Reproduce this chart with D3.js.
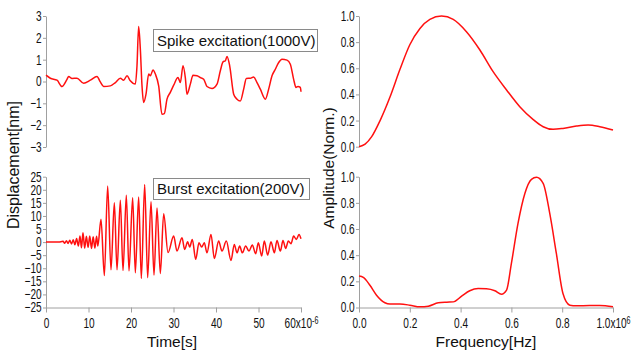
<!DOCTYPE html>
<html>
<head>
<meta charset="utf-8">
<script src="https://cdn.jsdelivr.net/npm/d3@7"></script>
<style>
body { margin: 0; background: #ffffff; }
.axis path, .axis line { stroke: #a0a0a0; stroke-width: 1; }
.axis text { font-family: "Liberation Sans", Arial, sans-serif; font-size: 14px; fill: #111111; }
.label { font-family: "Liberation Sans", Arial, sans-serif; fill: #111111; }
</style>
</head>
<body>
<div id="chart"></div>
<script>
// ---- data ----
// spike excitation, time in microseconds, displacement in nm
var spike_time = [0, 1.02, 2.59, 3.76, 4.94, 5.33, 6.12, 7.29, 8.86, 10.43, 12.0, 12.78, 13.57, 15.14, 16.31,
	17.49, 18.27, 19.06, 19.84, 21.02, 21.41, 21.8, 22.2, 22.59, 22.98, 23.53, 24.16, 24.55, 25.18, 25.73,
	26.51, 27.29, 27.84, 28.47, 29.25, 30.04, 31.06, 31.61, 32.24, 32.78, 33.18, 33.96, 34.59, 35.53, 36.31,
	37.1, 37.88, 39.06, 40.24, 41.02, 41.65, 42.2, 42.59, 43.22, 44.16, 44.94, 45.73, 46.51, 47.14, 48.08,
	48.86, 49.65, 50.43, 51.61, 52.39, 53.18, 53.96, 54.75, 55.53, 56.71, 57.49, 58.27, 58.82, 59.29, 59.84, 60.0];
var spike_disp = [0.29, 0.15, 0.06, -0.23, 0.1, 0.23, 0.14, 0.15, -0.08, 0.06, 0.23, -0.02, -0.23, -0.2, -0.05,
	0.15, 0.06, 0.26, 0.03, -0.12, 0.72, 2.52, 1.48, -0.2, -0.96, -0.58, 0.34, 0.26, 0.53, 0.34,
	-0.2, -1.5, -1.47, -0.81, -0.5, -0.17, 0.18, -0.05, 0.72, 0.18, -0.58, -0.12, 0.29, 0.26, 0.18,
	0.1, -0.23, -0.32, -0.12, 0.49, 0.9, 0.95, 1.15, 0.72, -0.58, -0.81, -0.89, -0.35, 0.14, 0.15,
	0.21, -0.05, -0.35, -0.81, -0.35, 0.26, 0.56, 0.87, 1.02, 0.98, 0.79, 0.1, -0.27, -0.23, -0.27, -0.47];

// burst excitation, mostly peaks and troughs of the oscillation
var burst_time = [0, 3.0, 4.0, 4.4, 4.8, 5.2, 5.6, 6.0, 6.4, 6.8, 7.2, 7.6, 8.0, 8.35, 8.7, 9.1, 9.5, 9.9,
	10.3, 10.7, 11.1, 11.5, 11.9, 12.2, 12.94, 13.73, 14.51, 15.29, 16.08, 16.71, 17.49, 18.12, 18.9,
	19.53, 20.39, 21.02, 21.8, 22.43, 23.22, 23.92, 24.71, 25.41, 26.12, 26.9, 27.69, 28.71, 30.04,
	30.82, 32.0, 32.63, 33.33, 33.8, 34.43, 35.22, 36.0, 36.63, 37.25, 37.88, 38.82, 39.61, 40.63,
	41.41, 42.43, 43.53, 44.31, 44.94, 45.57, 46.2, 46.98, 47.76, 48.55, 49.33, 49.96, 50.75, 51.37,
	52.16, 52.94, 53.73, 54.35, 55.14, 55.76, 56.39, 57.02, 57.65, 58.27, 58.9, 59.53, 60.0];
var burst_disp = [0, 0, 0.3, -0.4, 0.5, -0.5, 0.7, -0.7, 0.9, -1.0, 1.4, -1.5, 2.3, -2.2, 3.6, -2.3, 2.2, -2.0,
	2.3, -2.4, 2.0, -2.3, 2.2, -1.5, 8.7, -12.8, 21.4, -10.6, 15.0, -10.6, 16.0, -10.9, 17.9,
	-11.0, 17.0, -11.7, 17.2, -13.9, 22.0, -13.6, 15.4, -12.6, 13.0, -12.0, 10.8, -4.0, 2.3,
	-3.4, 1.66, -2.8, 0.13, -1.91, 1.02, -6.6, -0.26, -1.91, -0.26, -4.08, 2.93, -6.25, 0.38,
	-3.44, 0.38, -7.0, -0.89, -4.08, -1.53, -4.08, -1.53, -3.44, -1.15, -4.46, -0.26, -5.36, 0.38,
	-4.97, 0.13, -4.08, 0.64, -3.44, 0.64, -2.42, 0.38, -0.64, 2.3, 1.02, 2.93, 1.28];

// normalised spectra, frequency in MHz
var spike_freq = [0, 0.024, 0.05, 0.083, 0.122, 0.161, 0.2, 0.24, 0.279, 0.325, 0.371, 0.423, 0.476,
	0.528, 0.581, 0.633, 0.685, 0.725, 0.764, 0.803, 0.856, 0.902, 0.948, 1.0];
var spike_amp = [0, 0.02, 0.077, 0.2, 0.38, 0.59, 0.78, 0.905, 0.974, 1.0, 0.974, 0.88, 0.74,
	0.574, 0.434, 0.306, 0.209, 0.153, 0.133, 0.14, 0.158, 0.166, 0.153, 0.128];
var burst_freq = [0, 0.017, 0.043, 0.069, 0.102, 0.122, 0.161, 0.2, 0.24, 0.273, 0.312, 0.345, 0.371,
	0.404, 0.436, 0.469, 0.502, 0.535, 0.561, 0.581, 0.6, 0.626, 0.653, 0.679, 0.699, 0.725, 0.751,
	0.777, 0.803, 0.83, 0.856, 0.908, 0.948, 1.0];
var burst_amp = [0.24, 0.23, 0.17, 0.094, 0.036, 0.026, 0.026, 0.018, 0.005, 0.01, 0.036, 0.041, 0.043,
	0.087, 0.128, 0.145, 0.143, 0.128, 0.102, 0.133, 0.337, 0.643, 0.872, 0.98, 0.995, 0.949, 0.719,
	0.413, 0.107, 0.018, 0.013, 0.015, 0.015, 0.005];

// tick values
var time_ticks = [0, 10, 20, 30, 40, 50, 60];
var spike_ticks = [3, 2, 1, 0, -1, -2, -3];
var burst_ticks = [25, 20, 15, 10, 5, 0, -5, -10, -15, -20, -25];
var freq_ticks = [0, 0.2, 0.4, 0.6, 0.8, 1.0];
var amp_ticks = [0, 0.2, 0.4, 0.6, 0.8, 1.0];

var width = 633, height = 354;
var svg = d3.select("#chart").append("svg")
	.attr("width", width)
	.attr("height", height);

//scales for the four panels
var x_time = d3.scaleLinear().domain([0, 60]).range([46, 301]);
var x_freq = d3.scaleLinear().domain([0, 1]).range([359, 613]);
var y_spike = d3.scaleLinear().domain([-3, 3]).range([147, 16]);
var y_burst = d3.scaleLinear().domain([-25, 25]).range([307.5, 176.7]);
var y_amp_top = d3.scaleLinear().domain([0, 1]).range([146.7, 16]);
var y_amp_bot = d3.scaleLinear().domain([0, 1]).range([307.5, 176.7]);

// the tick font of the original is a narrow one, squeeze the glyphs
var squeeze = "scale(0.72,1)";

//draw a y axis at the left side of a panel
function drawYAxis(scale, x, ticks, fmt) {
	svg.append("g")
		.attr("class", "axis")
		.attr("transform", "translate(" + x + ",0)")
		.call(d3.axisLeft(scale).tickValues(ticks).tickSize(3).tickSizeOuter(0).tickPadding(3).tickFormat(fmt))
		.selectAll(".tick text")
		.attr("transform", squeeze);
}

//draw an x axis, the last tick gets the exponent
function drawXAxis(scale, y, ticks, fmt, last, exponent) {
	var g = svg.append("g")
		.attr("class", "axis")
		.attr("transform", "translate(0," + y + ")")
		.call(d3.axisBottom(scale).tickValues(ticks).tickSize(5).tickSizeOuter(0).tickPadding(6)
			.tickFormat(function(d, i) { return i == ticks.length - 1 ? "" : fmt(d); }));
	g.selectAll(".tick text").attr("transform", squeeze);
	g.selectAll(".tick text").filter(function(d, i) { return i == ticks.length - 1; })
		.each(function() {
			var t = d3.select(this);
			t.append("tspan").text(last);
			t.append("tspan").attr("dy", "-0.45em").attr("font-size", "10px").text(exponent);
		});
}

drawYAxis(y_spike, 46, spike_ticks, d3.format("d"));
drawYAxis(y_burst, 46, burst_ticks, d3.format("d"));
drawYAxis(y_amp_top, 359, amp_ticks, d3.format(".1f"));
drawYAxis(y_amp_bot, 359, amp_ticks, d3.format(".1f"));
drawXAxis(x_time, 307.5, time_ticks, d3.format("d"), "60x10", "-6");
drawXAxis(x_freq, 307.5, freq_ticks, d3.format(".1f"), "1.0x10", "6");

//red traces
function drawLine(xs, ys, xscale, yscale) {
	var line = d3.line()
		.x(function(d) { return xscale(d[0]); })
		.y(function(d) { return yscale(d[1]); })
		.curve(d3.curveMonotoneX);
	svg.append("path")
		.datum(d3.zip(xs, ys))
		.attr("fill", "none")
		.attr("stroke", "#ff1010")
		.attr("stroke-width", 1.5)
		.attr("stroke-linejoin", "round")
		.attr("d", line);
}
drawLine(spike_time, spike_disp, x_time, y_spike);
drawLine(burst_time, burst_disp, x_time, y_burst);
drawLine(spike_freq, spike_amp, x_freq, y_amp_top);
drawLine(burst_freq, burst_amp, x_freq, y_amp_bot);

//legend boxes
function drawLegend(x, y, w, h, txt) {
	svg.append("rect")
		.attr("x", x + 0.5).attr("y", y + 0.5)
		.attr("width", w).attr("height", h)
		.attr("fill", "#ffffff")
		.attr("stroke", "#8a8a8a");
	svg.append("text")
		.attr("class", "label")
		.attr("x", x + 4).attr("y", y + h - 5)
		.attr("font-size", "15px")
		.text(txt);
}
drawLegend(153, 29, 164, 22, "Spike excitation(1000V)");
drawLegend(153, 178, 156, 21, "Burst excitation(200V)");

//axis titles
svg.append("text").attr("class", "label")
	.attr("transform", "translate(19,165) rotate(-90)")
	.attr("text-anchor", "middle").attr("font-size", "16px")
	.text("Displacement[nm]");
svg.append("text").attr("class", "label")
	.attr("transform", "translate(334,168) rotate(-90)")
	.attr("text-anchor", "middle").attr("font-size", "15.5px")
	.text("Amplitude(Norm.)");
svg.append("text").attr("class", "label")
	.attr("x", 172).attr("y", 347)
	.attr("text-anchor", "middle").attr("font-size", "15.5px")
	.text("Time[s]");
svg.append("text").attr("class", "label")
	.attr("x", 486).attr("y", 347)
	.attr("text-anchor", "middle").attr("font-size", "15.5px")
	.text("Frequency[Hz]");
</script>
</body>
</html>
